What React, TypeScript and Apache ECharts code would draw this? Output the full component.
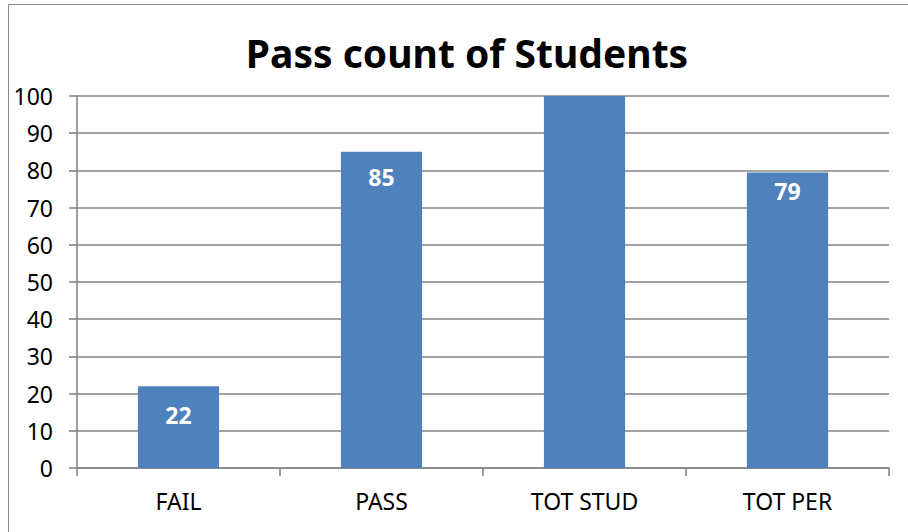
import React, { useEffect, useRef } from "react";
import * as echarts from "echarts";

const categories = ["FAIL", "PASS", "TOT STUD", "TOT PER"];
const values = [22, 85, 107, 79.44];
const showLabel = [true, true, false, true];
const titleText = "Pass count of Students";
const yMin = 0;
const yMax = 100;
const yInterval = 10;

export default function App() {
  const ref = useRef<HTMLDivElement>(null);
  useEffect(() => {
    if (!ref.current) return;
    const chart = echarts.init(ref.current, undefined, { renderer: "svg" });
    const labelDistance = [17, 14, 14, 7];
    const font = "'Noto Sans', 'Open Sans', sans-serif";
    chart.setOption({
      animation: false,
      backgroundColor: "#ffffff",
      title: {
        text: titleText,
        left: 462,
        top: 28,
        textAlign: "center",
        textStyle: { fontFamily: font, fontSize: 39, fontWeight: "bold", color: "#000000" },
      },
      graphic: [
        {
          type: "rect",
          shape: { x: 8.5, y: 4.5, width: 1000, height: 1000 },
          style: { fill: "none", stroke: "#868686", lineWidth: 1 },
          silent: true,
        },
      ],
      grid: { left: 77, right: 19, top: 96, bottom: 64, containLabel: false },
      xAxis: {
        type: "category",
        data: categories,
        axisLine: { show: true, lineStyle: { color: "#858585", width: 1.6 } },
        axisTick: { show: true, length: 8, alignWithLabel: false, lineStyle: { color: "#858585", width: 1.6 } },
        axisLabel: { color: "#000000", fontFamily: font, fontSize: 23, margin: 21 },
        splitLine: { show: false },
      },
      yAxis: {
        type: "value",
        min: yMin,
        max: yMax,
        interval: yInterval,
        axisLine: { show: true, lineStyle: { color: "#858585", width: 1.6 } },
        axisTick: { show: true, length: 8, lineStyle: { color: "#858585", width: 1.6 } },
        axisLabel: { color: "#000000", fontFamily: font, fontSize: 23, margin: 24 },
        splitLine: { show: true, lineStyle: { color: "#858585", width: 1.6 } },
      },
      series: [
        {
          type: "bar",
          barWidth: "40%",
          clip: true,
          itemStyle: { color: "#4F81BD" },
          data: values.map((v, i) => ({
            value: v,
            label: {
              show: showLabel[i],
              position: "insideTop",
              distance: labelDistance[i],
              formatter: (p: any) => String(Math.round(p.value)),
              color: "#ffffff",
              fontFamily: font,
              fontSize: 23,
              fontWeight: "bold",
            },
          })),
        },
      ],
    });
    return () => chart.dispose();
  }, []);
  return (
    <div
      ref={ref}
      style={{ position: "absolute", left: 0, top: 0, width: 908, height: 532 }}
    />
  );
}
